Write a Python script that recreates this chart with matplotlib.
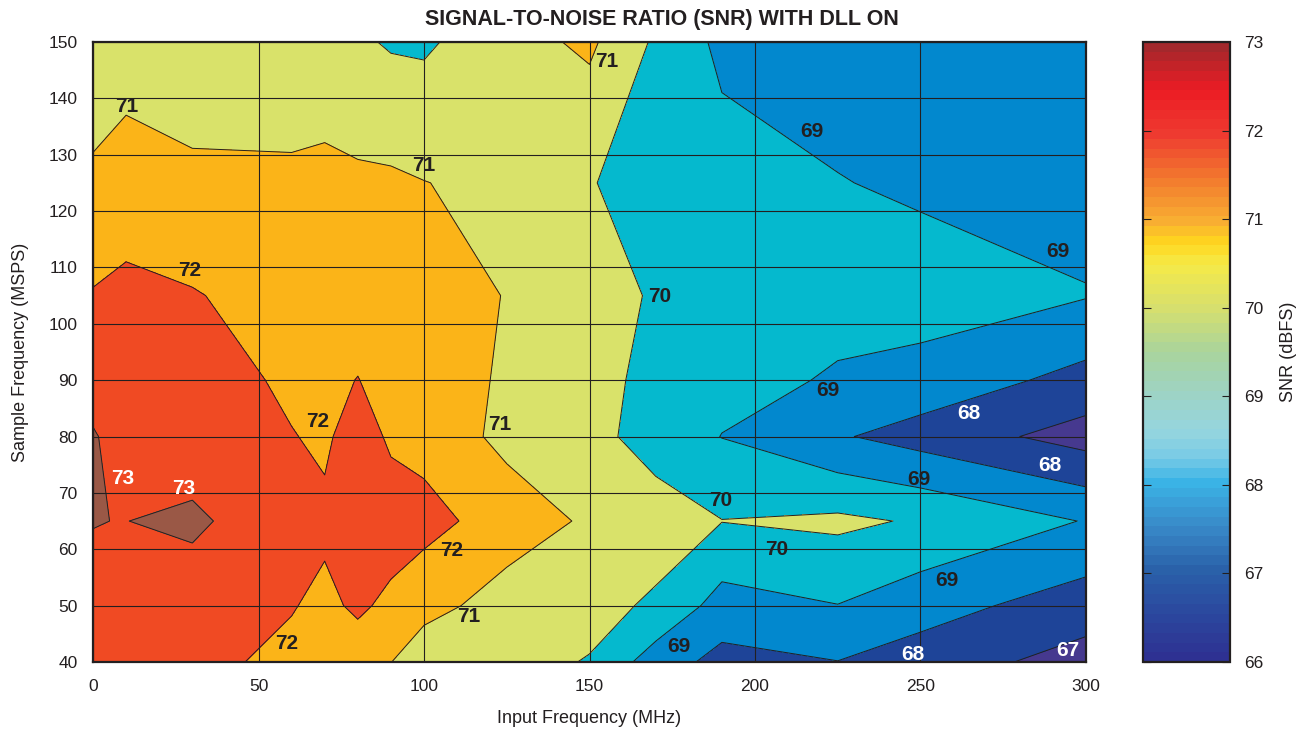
import numpy as np
import matplotlib
matplotlib.use("Agg")
import matplotlib.pyplot as plt
from matplotlib.colors import LinearSegmentedColormap, Normalize
from matplotlib.cm import ScalarMappable

plt.rcParams['font.family'] = ['Liberation Sans', 'DejaVu Sans']

# Input frequency (MHz) and sample frequency (MSPS) grid
input_freq = [0, 10, 30, 60, 70, 80, 90, 100, 125, 150, 170, 190, 225, 250, 300]
sample_freq = [40, 50, 65, 80, 90, 105, 125, 150]

# SNR (dBFS), one list per sample frequency row
snr_40 = [72.7, 72.6, 72.25, 71.78, 71.6, 71.53, 71.02, 70.26, 70.3, 69.95, 68.5, 67.68, 67.98, 67.55, 66.58]
snr_50 = [72.9, 72.6, 72.43, 72.05, 71.8, 72.15, 71.8, 71.4, 70.51, 70.3, 69.86, 68.6, 68.98, 68.4, 67.51]
snr_65 = [73.01, 72.99, 73.2, 72.26, 72.18, 72.3, 72.44, 72.3, 71.59, 70.84, 70.45, 70.02, 70.2, 69.9, 68.95]
snr_80 = [73.02, 72.9, 72.39, 72.04, 71.85, 72.44, 71.86, 71.7, 70.72, 70.3, 69.6, 68.98, 68.1, 67.6, 66.6]
snr_90 = [72.9, 72.7, 72.5, 71.82, 71.8, 72.02, 71.7, 71.5, 70.875, 70.4, 69.67, 69.3, 68.91, 68.64, 67.67]
snr_105 = [72.07, 72.27, 72.07, 71.55, 71.6, 71.6, 71.6, 71.5, 70.96, 70.5, 69.875, 69.5, 69.3, 69.46, 69.05]
snr_125 = [71.11, 71.37, 71.13, 71.11, 71.18, 71.17, 71.15, 71.02, 70.77, 70.05, 69.62, 69.41, 69.04, 68.84, 68.6]
snr_150 = [70.6, 70.6, 70.6, 70.6, 70.55, 70.15, 69.9, 69.85, 70.63, 71.18, 69.85, 68.77, 68.5, 68.4, 68.3]

levels = [66, 67, 68, 69, 70, 71, 72, 73, 74]
fill_colors = ['#46398F', '#1E4498', '#0288CE', '#05B9CE', '#D9E26A',
               '#FBB418', '#F04A23', '#9A5846']

# contour labels
label_text = ['71', '72', '71', '71', '70', '69', '69', '72', '71', '73', '73', '72',
              '70', '70', '69', '68', '68', '69', '69', '71', '72', '69', '68', '67']
label_x = [10.3, 29.3, 100, 155.3, 171.3, 217.2, 291.5, 68, 123, 9.1, 27.5, 108.5,
           189.7, 206.6, 222, 264.7, 289, 249.5, 258, 113.6, 58.6, 177, 247.7, 294.6]
label_y = [138.6, 109.5, 128, 146.5, 104.8, 134.2, 112.9, 82.6, 82.2, 72.5, 70.7, 59.7,
           68.6, 60, 88.1, 84, 74.8, 72.3, 54.4, 48, 43.2, 42.7, 41.4, 42]
label_white = ['73', '68', '67']

snr = np.array([snr_40, snr_50, snr_65, snr_80, snr_90, snr_105, snr_125, snr_150])
X, Y = np.meshgrid(input_freq, sample_freq)

fig = plt.figure(figsize=(13.1, 7.3), dpi=100)
ax = fig.add_axes([0.071, 0.0932, 0.758, 0.8493])

ax.contourf(X, Y, snr, levels=levels, colors=fill_colors)
ax.contour(X, Y, snr, levels=levels[1:-1], colors='#231F20', linewidths=0.7)

for t, lx, ly in zip(label_text, label_x, label_y):
    c = 'white' if t in label_white else '#231F20'
    ax.text(lx, ly, t, ha='center', va='center', fontsize=15, fontweight='bold', color=c)

ax.set_xlim(0, 300)
ax.set_ylim(40, 150)
ax.set_xticks(range(0, 301, 50))
ax.set_yticks(range(40, 151, 10))
ax.grid(True, color='#231F20', linewidth=0.8)
ax.set_axisbelow(False)
ax.tick_params(axis='y', length=0, labelsize=12.5, colors='#231F20', pad=11)
ax.tick_params(axis='x', length=0, labelsize=12.5, colors='#231F20', pad=12)
for s in ax.spines.values():
    s.set_linewidth(1.6)
    s.set_color('#231F20')
ax.set_xlabel('Input Frequency (MHz)', fontsize=13, color='#231F20', labelpad=12)
ax.set_ylabel('Sample Frequency (MSPS)', fontsize=13, color='#231F20', labelpad=14)

fig.text(0.5053, 0.973, 'SIGNAL-TO-NOISE RATIO (SNR) WITH DLL ON', ha='center', va='center',
         fontsize=15.5, fontweight='bold', color='#231F20')

# colorbar gradient
cb_vals = [66, 66.5, 67, 67.5, 68, 68.3, 68.6, 69, 69.5, 70, 70.5, 70.75, 71, 71.5, 72, 72.5, 73]
cb_cols = ['#2E3192', '#2B479E', '#2A61A9', '#3989C8', '#3AB3E6', '#79CBE6', '#96D5DE',
           '#9DD3C6', '#A9D49C', '#D6DF6E', '#F5EA48', '#FFD71E', '#F8AE32', '#F2782E',
           '#EE3A30', '#EC1C24', '#A3282C']
pos = [(v - 66) / 7 for v in cb_vals]
cmap_cb = LinearSegmentedColormap.from_list('snr', list(zip(pos, cb_cols)), N=64)
cax = fig.add_axes([0.8725, 0.0932, 0.0664, 0.8493])
sm = ScalarMappable(norm=Normalize(66, 73), cmap=cmap_cb)
cb = fig.colorbar(sm, cax=cax, ticks=range(66, 74))
cb.outline.set_linewidth(1.6)
cb.outline.set_edgecolor('#231F20')
cax.tick_params(direction='in', left=True, right=True, length=6, width=0.8,
                labelsize=12.5, colors='#231F20', pad=10)
cb.set_label('SNR (dBFS)', fontsize=13, color='#231F20', labelpad=12)

fig.savefig('out.png', dpi=100)
